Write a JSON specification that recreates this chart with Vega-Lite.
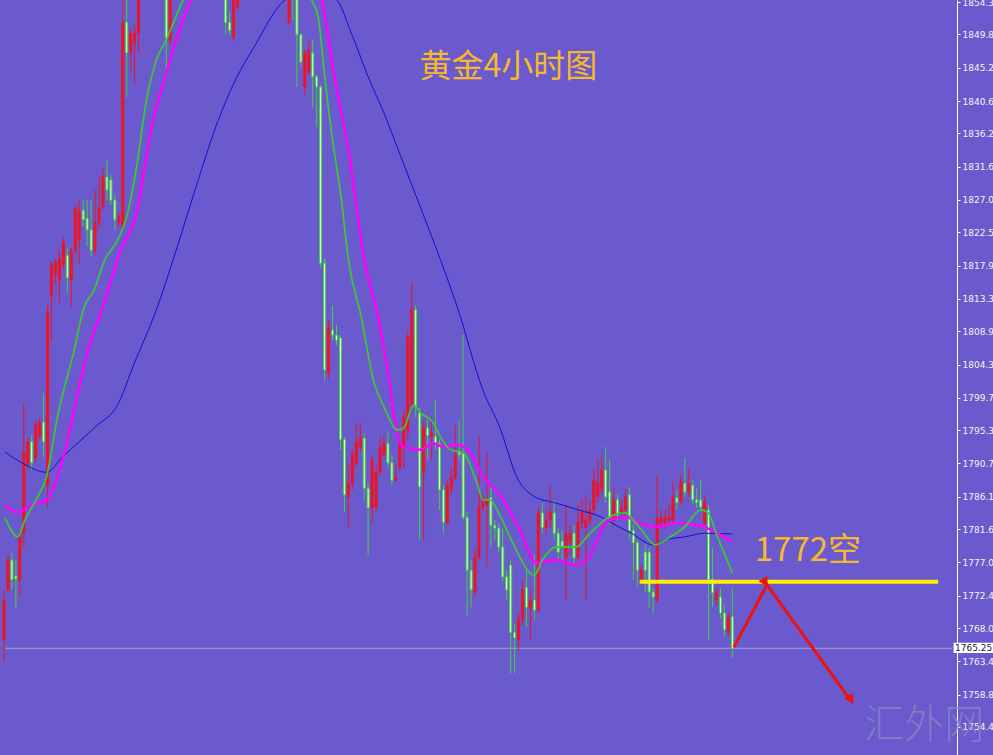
{
  "$schema": "https://vega.github.io/schema/vega-lite/v6.json",
  "width": 957,
  "height": 755,
  "autosize": {"type": "none"},
  "padding": {"left": 0, "top": 0, "right": 36, "bottom": 0},
  "background": "#6A5ACD",
  "config": {"view": {"stroke": null, "fill": "#6A5ACD"}, "axis": {"labelOverlap": false, "labelBound": false, "labelFlush": false}},
  "datasets": {
    "candles": [
      {"i":-1,"o":1766.4,"h":1773.3,"l":1763.4,"c":1771.9},
      {"i":0,"o":1773.3,"h":1778.0,"l":1773.0,"c":1777.4},
      {"i":1,"o":1777.4,"h":1778.4,"l":1773.3,"c":1774.7},
      {"i":2,"o":1775.2,"h":1777.4,"l":1770.8,"c":1774.8},
      {"i":3,"o":1774.7,"h":1781.1,"l":1772.3,"c":1780.6},
      {"i":4,"o":1781.1,"h":1799.0,"l":1779.1,"c":1792.3},
      {"i":5,"o":1790.5,"h":1794.2,"l":1789.8,"c":1793.7},
      {"i":6,"o":1793.7,"h":1794.6,"l":1789.8,"c":1790.8},
      {"i":7,"o":1791.5,"h":1796.7,"l":1790.8,"c":1796.0},
      {"i":8,"o":1794.4,"h":1797.0,"l":1794.0,"c":1796.4},
      {"i":9,"o":1796.4,"h":1800.4,"l":1791.6,"c":1793.7},
      {"i":10,"o":1787.7,"h":1812.5,"l":1784.6,"c":1811.6},
      {"i":11,"o":1813.9,"h":1818.5,"l":1807.7,"c":1818.1},
      {"i":12,"o":1816.7,"h":1819.0,"l":1815.3,"c":1818.5},
      {"i":13,"o":1816.0,"h":1820.1,"l":1812.8,"c":1819.0},
      {"i":14,"o":1818.1,"h":1821.8,"l":1817.4,"c":1821.2},
      {"i":15,"o":1819.4,"h":1820.4,"l":1814.3,"c":1816.3},
      {"i":16,"o":1816.0,"h":1820.4,"l":1812.3,"c":1819.9},
      {"i":17,"o":1820.1,"h":1826.3,"l":1819.4,"c":1825.9},
      {"i":18,"o":1821.5,"h":1827.0,"l":1818.1,"c":1825.6},
      {"i":19,"o":1825.6,"h":1827.0,"l":1823.3,"c":1824.3},
      {"i":20,"o":1824.5,"h":1827.0,"l":1820.6,"c":1822.9},
      {"i":21,"o":1822.9,"h":1827.0,"l":1819.2,"c":1820.1},
      {"i":22,"o":1820.1,"h":1828.4,"l":1819.4,"c":1823.9},
      {"i":23,"o":1823.9,"h":1830.2,"l":1823.2,"c":1825.9},
      {"i":24,"o":1826.1,"h":1831.4,"l":1825.6,"c":1830.2},
      {"i":25,"o":1830.2,"h":1832.5,"l":1827.0,"c":1828.4},
      {"i":26,"o":1829.8,"h":1830.5,"l":1826.3,"c":1827.0},
      {"i":27,"o":1827.0,"h":1827.7,"l":1822.9,"c":1824.3},
      {"i":28,"o":1824.0,"h":1825.4,"l":1823.2,"c":1824.7},
      {"i":29,"o":1823.3,"h":1855.0,"l":1822.9,"c":1851.5},
      {"i":30,"o":1851.5,"h":1855.2,"l":1841.2,"c":1847.3},
      {"i":31,"o":1847.3,"h":1850.7,"l":1844.9,"c":1850.0},
      {"i":32,"o":1848.7,"h":1851.1,"l":1843.1,"c":1850.0},
      {"i":33,"o":1850.0,"h":1857.0,"l":1847.3,"c":1856.0},
      {"i":34,"o":1856.0,"h":1861.0,"l":1855.0,"c":1859.0},
      {"i":35,"o":1859.0,"h":1863.5,"l":1857.5,"c":1862.0},
      {"i":36,"o":1862.0,"h":1863.0,"l":1856.0,"c":1858.0},
      {"i":37,"o":1858.0,"h":1862.0,"l":1856.5,"c":1861.0},
      {"i":38,"o":1861.0,"h":1865.5,"l":1860.0,"c":1864.0},
      {"i":39,"o":1864.0,"h":1865.0,"l":1856.0,"c":1858.5},
      {"i":40,"o":1858.5,"h":1859.5,"l":1845.3,"c":1849.3},
      {"i":41,"o":1849.1,"h":1858.0,"l":1848.4,"c":1857.0},
      {"i":42,"o":1857.0,"h":1861.0,"l":1855.5,"c":1860.0},
      {"i":43,"o":1860.0,"h":1864.0,"l":1859.0,"c":1863.0},
      {"i":44,"o":1863.0,"h":1867.5,"l":1862.0,"c":1866.0},
      {"i":45,"o":1866.0,"h":1867.0,"l":1862.5,"c":1864.0},
      {"i":46,"o":1864.0,"h":1869.0,"l":1863.0,"c":1868.0},
      {"i":47,"o":1868.0,"h":1872.0,"l":1867.0,"c":1870.5},
      {"i":48,"o":1870.5,"h":1871.5,"l":1865.5,"c":1867.0},
      {"i":49,"o":1867.0,"h":1868.0,"l":1863.5,"c":1865.0},
      {"i":50,"o":1865.0,"h":1870.0,"l":1864.0,"c":1869.0},
      {"i":51,"o":1869.0,"h":1870.0,"l":1865.0,"c":1866.0},
      {"i":52,"o":1866.0,"h":1867.0,"l":1861.0,"c":1862.0},
      {"i":53,"o":1862.0,"h":1863.0,"l":1856.0,"c":1859.0},
      {"i":54,"o":1859.0,"h":1860.0,"l":1855.0,"c":1857.0},
      {"i":55,"o":1857.0,"h":1858.0,"l":1849.8,"c":1851.5},
      {"i":56,"o":1851.5,"h":1853.0,"l":1849.8,"c":1850.4},
      {"i":57,"o":1849.5,"h":1857.0,"l":1849.0,"c":1856.0},
      {"i":58,"o":1853.6,"h":1860.0,"l":1853.2,"c":1858.0},
      {"i":59,"o":1858.0,"h":1862.0,"l":1857.0,"c":1861.0},
      {"i":60,"o":1861.0,"h":1862.5,"l":1857.5,"c":1859.0},
      {"i":61,"o":1859.0,"h":1864.0,"l":1858.0,"c":1863.0},
      {"i":62,"o":1863.0,"h":1867.0,"l":1862.0,"c":1866.0},
      {"i":63,"o":1866.0,"h":1867.0,"l":1862.5,"c":1864.0},
      {"i":64,"o":1864.0,"h":1868.5,"l":1863.0,"c":1867.0},
      {"i":65,"o":1867.0,"h":1871.5,"l":1866.0,"c":1870.0},
      {"i":66,"o":1870.0,"h":1871.0,"l":1866.0,"c":1868.0},
      {"i":67,"o":1868.0,"h":1869.0,"l":1863.0,"c":1864.0},
      {"i":68,"o":1864.0,"h":1865.0,"l":1859.5,"c":1861.0},
      {"i":69,"o":1861.0,"h":1862.0,"l":1855.5,"c":1858.0},
      {"i":70,"o":1858.0,"h":1859.0,"l":1855.0,"c":1856.0},
      {"i":71,"o":1851.5,"h":1859.0,"l":1851.1,"c":1857.0},
      {"i":72,"o":1858.0,"h":1859.0,"l":1851.8,"c":1855.0},
      {"i":73,"o":1856.0,"h":1857.0,"l":1842.6,"c":1849.8},
      {"i":74,"o":1849.8,"h":1850.0,"l":1845.3,"c":1846.0},
      {"i":75,"o":1842.6,"h":1847.7,"l":1841.5,"c":1847.3},
      {"i":76,"o":1844.7,"h":1848.8,"l":1844.2,"c":1847.7},
      {"i":77,"o":1847.3,"h":1849.1,"l":1839.8,"c":1844.0},
      {"i":78,"o":1844.0,"h":1844.2,"l":1837.1,"c":1842.6},
      {"i":79,"o":1842.6,"h":1842.9,"l":1817.7,"c":1818.3},
      {"i":80,"o":1818.3,"h":1819.0,"l":1802.2,"c":1803.6},
      {"i":81,"o":1803.2,"h":1810.5,"l":1802.5,"c":1809.5},
      {"i":82,"o":1809.1,"h":1812.5,"l":1807.7,"c":1808.4},
      {"i":83,"o":1808.4,"h":1809.8,"l":1807.0,"c":1807.7},
      {"i":84,"o":1808.0,"h":1808.4,"l":1792.6,"c":1794.0},
      {"i":85,"o":1794.0,"h":1794.4,"l":1784.0,"c":1786.4},
      {"i":86,"o":1786.1,"h":1790.5,"l":1781.9,"c":1788.0},
      {"i":87,"o":1788.0,"h":1792.6,"l":1787.1,"c":1791.9},
      {"i":88,"o":1790.8,"h":1796.3,"l":1790.1,"c":1793.7},
      {"i":89,"o":1793.0,"h":1796.4,"l":1792.3,"c":1794.2},
      {"i":90,"o":1794.2,"h":1794.9,"l":1785.7,"c":1787.3},
      {"i":91,"o":1787.3,"h":1788.0,"l":1778.1,"c":1784.6},
      {"i":92,"o":1784.6,"h":1791.9,"l":1782.5,"c":1791.2},
      {"i":93,"o":1784.7,"h":1790.5,"l":1784.0,"c":1789.5},
      {"i":94,"o":1789.5,"h":1794.4,"l":1789.0,"c":1793.0},
      {"i":95,"o":1791.9,"h":1794.4,"l":1791.5,"c":1793.5},
      {"i":96,"o":1793.5,"h":1795.1,"l":1790.2,"c":1790.8},
      {"i":97,"o":1790.8,"h":1791.9,"l":1787.7,"c":1788.4},
      {"i":98,"o":1788.4,"h":1790.5,"l":1788.2,"c":1788.8},
      {"i":99,"o":1790.2,"h":1794.0,"l":1789.8,"c":1793.5},
      {"i":100,"o":1793.0,"h":1798.1,"l":1790.1,"c":1797.1},
      {"i":101,"o":1795.3,"h":1809.1,"l":1794.0,"c":1808.1},
      {"i":102,"o":1798.8,"h":1815.7,"l":1798.1,"c":1811.9},
      {"i":103,"o":1811.9,"h":1812.5,"l":1797.1,"c":1798.5},
      {"i":104,"o":1797.7,"h":1798.4,"l":1780.2,"c":1787.5},
      {"i":105,"o":1789.4,"h":1796.7,"l":1780.2,"c":1795.7},
      {"i":106,"o":1795.6,"h":1796.7,"l":1791.2,"c":1794.6},
      {"i":107,"o":1794.4,"h":1797.1,"l":1791.2,"c":1794.9},
      {"i":108,"o":1794.4,"h":1799.5,"l":1792.6,"c":1793.5},
      {"i":109,"o":1793.5,"h":1794.0,"l":1784.3,"c":1787.1},
      {"i":110,"o":1787.1,"h":1787.7,"l":1781.1,"c":1782.6},
      {"i":111,"o":1782.6,"h":1788.4,"l":1782.2,"c":1787.7},
      {"i":112,"o":1787.1,"h":1790.2,"l":1786.4,"c":1788.8},
      {"i":113,"o":1788.8,"h":1796.0,"l":1788.4,"c":1791.9},
      {"i":114,"o":1792.3,"h":1796.7,"l":1791.2,"c":1791.9},
      {"i":115,"o":1792.2,"h":1808.4,"l":1782.9,"c":1783.3},
      {"i":116,"o":1783.3,"h":1784.0,"l":1769.8,"c":1776.0},
      {"i":117,"o":1776.0,"h":1777.4,"l":1770.9,"c":1773.3},
      {"i":118,"o":1773.0,"h":1778.8,"l":1772.3,"c":1777.8},
      {"i":119,"o":1777.8,"h":1794.4,"l":1777.4,"c":1784.7},
      {"i":120,"o":1784.7,"h":1786.4,"l":1784.0,"c":1785.7},
      {"i":121,"o":1785.0,"h":1792.2,"l":1776.5,"c":1785.7},
      {"i":122,"o":1786.0,"h":1787.5,"l":1779.2,"c":1782.2},
      {"i":123,"o":1782.2,"h":1782.9,"l":1780.2,"c":1781.8},
      {"i":124,"o":1781.8,"h":1782.5,"l":1778.5,"c":1779.2},
      {"i":125,"o":1779.2,"h":1781.8,"l":1774.4,"c":1775.1},
      {"i":126,"o":1775.1,"h":1776.0,"l":1771.9,"c":1773.3},
      {"i":127,"o":1776.7,"h":1777.4,"l":1761.8,"c":1767.4},
      {"i":128,"o":1767.4,"h":1768.5,"l":1761.8,"c":1766.7},
      {"i":129,"o":1766.4,"h":1770.2,"l":1765.0,"c":1769.2},
      {"i":130,"o":1769.2,"h":1774.7,"l":1768.5,"c":1773.3},
      {"i":131,"o":1773.6,"h":1776.0,"l":1768.2,"c":1770.9},
      {"i":132,"o":1770.8,"h":1773.3,"l":1766.4,"c":1771.9},
      {"i":133,"o":1771.9,"h":1778.1,"l":1769.2,"c":1770.5},
      {"i":134,"o":1770.5,"h":1784.6,"l":1770.2,"c":1783.9},
      {"i":135,"o":1783.9,"h":1785.3,"l":1781.1,"c":1781.9},
      {"i":136,"o":1781.9,"h":1784.3,"l":1780.9,"c":1782.9},
      {"i":137,"o":1782.9,"h":1787.7,"l":1781.8,"c":1784.0},
      {"i":138,"o":1783.9,"h":1785.7,"l":1780.2,"c":1781.1},
      {"i":139,"o":1781.1,"h":1781.8,"l":1777.4,"c":1778.5},
      {"i":140,"o":1780.0,"h":1781.5,"l":1777.4,"c":1779.2},
      {"i":141,"o":1777.8,"h":1785.0,"l":1771.9,"c":1780.9},
      {"i":142,"o":1779.8,"h":1782.2,"l":1778.1,"c":1781.1},
      {"i":143,"o":1781.1,"h":1782.2,"l":1776.7,"c":1777.7},
      {"i":144,"o":1777.7,"h":1785.0,"l":1777.2,"c":1782.6},
      {"i":145,"o":1782.5,"h":1785.7,"l":1781.8,"c":1783.9},
      {"i":146,"o":1781.9,"h":1786.4,"l":1771.9,"c":1782.9},
      {"i":147,"o":1782.9,"h":1785.7,"l":1782.2,"c":1784.3},
      {"i":148,"o":1784.3,"h":1789.8,"l":1783.6,"c":1788.4},
      {"i":149,"o":1786.1,"h":1791.2,"l":1785.3,"c":1788.0},
      {"i":150,"o":1787.1,"h":1791.9,"l":1786.4,"c":1789.8},
      {"i":151,"o":1789.8,"h":1793.0,"l":1785.3,"c":1786.1},
      {"i":152,"o":1786.8,"h":1791.2,"l":1782.2,"c":1783.3},
      {"i":153,"o":1782.9,"h":1787.5,"l":1782.2,"c":1785.7},
      {"i":154,"o":1785.7,"h":1786.4,"l":1782.9,"c":1783.6},
      {"i":155,"o":1784.0,"h":1785.7,"l":1783.2,"c":1784.6},
      {"i":156,"o":1784.3,"h":1787.1,"l":1783.6,"c":1786.1},
      {"i":157,"o":1786.4,"h":1787.5,"l":1780.2,"c":1781.5},
      {"i":158,"o":1781.5,"h":1782.2,"l":1774.7,"c":1779.8},
      {"i":159,"o":1779.8,"h":1780.2,"l":1773.7,"c":1776.0},
      {"i":160,"o":1774.7,"h":1776.7,"l":1774.0,"c":1776.0},
      {"i":161,"o":1778.5,"h":1779.5,"l":1772.9,"c":1776.0},
      {"i":162,"o":1778.5,"h":1779.1,"l":1770.9,"c":1773.0},
      {"i":163,"o":1773.0,"h":1773.6,"l":1770.1,"c":1772.3},
      {"i":164,"o":1771.9,"h":1789.1,"l":1771.6,"c":1783.2},
      {"i":165,"o":1782.6,"h":1784.3,"l":1781.8,"c":1783.2},
      {"i":166,"o":1782.5,"h":1784.3,"l":1781.8,"c":1783.3},
      {"i":167,"o":1782.9,"h":1785.0,"l":1782.2,"c":1783.3},
      {"i":168,"o":1782.9,"h":1788.2,"l":1782.6,"c":1786.0},
      {"i":169,"o":1786.0,"h":1787.1,"l":1784.3,"c":1785.3},
      {"i":170,"o":1785.4,"h":1789.1,"l":1785.0,"c":1788.2},
      {"i":171,"o":1788.0,"h":1791.5,"l":1786.1,"c":1786.8},
      {"i":172,"o":1786.8,"h":1790.1,"l":1786.1,"c":1788.0},
      {"i":173,"o":1787.7,"h":1788.4,"l":1785.0,"c":1785.7},
      {"i":174,"o":1785.7,"h":1787.3,"l":1784.6,"c":1785.3},
      {"i":175,"o":1785.7,"h":1788.4,"l":1784.3,"c":1784.7},
      {"i":176,"o":1782.5,"h":1786.4,"l":1782.2,"c":1785.4},
      {"i":177,"o":1784.3,"h":1785.0,"l":1766.4,"c":1774.7},
      {"i":178,"o":1774.7,"h":1779.1,"l":1770.9,"c":1772.9},
      {"i":179,"o":1771.9,"h":1773.6,"l":1771.2,"c":1772.9},
      {"i":180,"o":1772.3,"h":1773.6,"l":1769.4,"c":1770.1},
      {"i":181,"o":1770.1,"h":1771.2,"l":1766.8,"c":1767.8},
      {"i":182,"o":1767.5,"h":1770.2,"l":1767.0,"c":1769.6},
      {"i":183,"o":1769.6,"h":1773.6,"l":1763.9,"c":1765.25}
    ],
    "blue": [
      {"i":-0.75,"v":1792.3},{"i":3.5,"v":1790.8},{"i":9.75,"v":1789.5},{"i":13.75,"v":1791.6},
      {"i":21.75,"v":1795.6},{"i":28,"v":1799.1},{"i":31.75,"v":1804.3},{"i":37.5,"v":1811.9},
      {"i":42.5,"v":1820.1},{"i":47.5,"v":1828.8},{"i":52.5,"v":1837.1},{"i":57.5,"v":1843.6},
      {"i":61.75,"v":1847.7},{"i":70,"v":1854.6},{"i":76.5,"v":1856.0},{"i":83,"v":1854.6},
      {"i":86.75,"v":1850.0},{"i":91,"v":1844.0},{"i":95,"v":1839.0},{"i":99.25,"v":1833.0},
      {"i":103.5,"v":1827.0},{"i":109.25,"v":1818.8},{"i":113.5,"v":1812.3},{"i":120,"v":1800.8},
      {"i":124.25,"v":1795.7},{"i":128.5,"v":1788.9},{"i":133.5,"v":1786.0},{"i":137.5,"v":1785.4},
      {"i":144.25,"v":1784.3},{"i":150,"v":1783.3},{"i":152.5,"v":1782.5},{"i":157.5,"v":1781.1},
      {"i":163,"v":1779.5},{"i":166,"v":1780.2},{"i":171,"v":1780.6},{"i":176,"v":1781.1},{"i":183,"v":1781.0}
    ],
    "magenta": [
      {"i":-0.75,"v":1785.0},{"i":2.5,"v":1784.0},{"i":6,"v":1785.0},{"i":9.75,"v":1785.7},
      {"i":14.25,"v":1792.2},{"i":16,"v":1796.3},{"i":20,"v":1805.9},{"i":24.25,"v":1812.8},
      {"i":28.5,"v":1820.1},{"i":32.5,"v":1825.2},{"i":36,"v":1836.3},{"i":40,"v":1844.5},
      {"i":44.25,"v":1851.8},{"i":46.25,"v":1854.6},{"i":55,"v":1860},{"i":65,"v":1863},
      {"i":73,"v":1860},{"i":79.25,"v":1854.6},{"i":82.5,"v":1844.0},{"i":86,"v":1833.9},
      {"i":90,"v":1818.8},{"i":93.5,"v":1810.9},{"i":96,"v":1803.2},{"i":98.5,"v":1794.4},
      {"i":100,"v":1793.0},{"i":104.25,"v":1792.6},{"i":107.5,"v":1793.5},{"i":110,"v":1793.0},
      {"i":113.5,"v":1793.3},{"i":116.75,"v":1792.2},{"i":120,"v":1788.9},{"i":124.25,"v":1786.4},
      {"i":129.25,"v":1781.6},{"i":133.5,"v":1777.0},{"i":138.5,"v":1777.4},{"i":143.5,"v":1776.7},
      {"i":146.75,"v":1777.8},{"i":151.75,"v":1782.9},{"i":156,"v":1783.3},{"i":161,"v":1782.2},
      {"i":164.25,"v":1782.0},{"i":168.5,"v":1782.5},{"i":174.25,"v":1782.2},{"i":177.5,"v":1781.6},
      {"i":183,"v":1779.9}
    ],
    "green": [
      {"i":-0.75,"v":1783.2},{"i":2.5,"v":1780.6},{"i":4.25,"v":1782.9},{"i":7.5,"v":1786.1},
      {"i":9.75,"v":1788.9},{"i":12.5,"v":1797.1},{"i":16.75,"v":1806.4},{"i":19.25,"v":1812.3},
      {"i":21.75,"v":1814.6},{"i":24.25,"v":1818.5},{"i":28,"v":1821.8},{"i":30,"v":1824.7},
      {"i":32.5,"v":1831.6},{"i":35,"v":1840.8},{"i":37.5,"v":1846.3},{"i":40,"v":1849.1},
      {"i":44.25,"v":1854.6},{"i":50,"v":1860},{"i":58,"v":1862},{"i":65,"v":1864},
      {"i":72,"v":1860},{"i":76.75,"v":1854.6},{"i":78.5,"v":1851.8},{"i":79.75,"v":1845.4},
      {"i":81.75,"v":1836.3},{"i":84.25,"v":1827.0},{"i":86,"v":1818.8},{"i":89.25,"v":1810.9},
      {"i":92.5,"v":1801.8},{"i":95,"v":1798.5},{"i":98.5,"v":1795.3},{"i":100,"v":1795.6},
      {"i":102.5,"v":1798.8},{"i":104.25,"v":1797.7},{"i":107.5,"v":1796.3},{"i":109.25,"v":1794.4},
      {"i":111.75,"v":1792.6},{"i":115,"v":1792.2},{"i":118.5,"v":1788.0},{"i":120,"v":1785.7},
      {"i":121.75,"v":1785.7},{"i":124.25,"v":1783.6},{"i":127.5,"v":1779.8},{"i":133,"v":1775.3},
      {"i":135,"v":1777.4},{"i":138.5,"v":1779.2},{"i":143.5,"v":1779.2},{"i":146.75,"v":1780.9},
      {"i":151.75,"v":1783.3},{"i":156,"v":1783.9},{"i":157.5,"v":1783.2},{"i":160,"v":1781.6},
      {"i":163.5,"v":1779.5},{"i":166.75,"v":1780.4},{"i":171,"v":1782.0},{"i":175,"v":1784.3},
      {"i":176.75,"v":1784.0},{"i":179.25,"v":1780.6},{"i":183,"v":1775.6}
    ],
    "arrow": [
      {"k":0,"i":183.4,"p":1765.4},
      {"k":1,"i":191.75,"p":1774.0},
      {"k":2,"i":213.4,"p":1757.7}
    ]
  },
  "layer": [
    {
      "data": {"values": [{}]},
      "mark": {"type": "rule", "color": "#a8a4cc", "strokeWidth": 1},
      "encoding": {
        "x": {"datum": -0.75, "type": "quantitative", "axis": null,
              "scale": {"domain": [-0.75, 238.5], "nice": false, "zero": false}},
        "x2": {"datum": 238.5},
        "y": {"datum": 1765.25, "type": "quantitative",
              "scale": {"domain": [1750.54, 1854.58], "nice": false, "zero": false},
              "axis": {"orient": "right", "values": [1854.30, 1849.84, 1845.25, 1840.66, 1836.21, 1831.62, 1827.03, 1822.57, 1817.98, 1813.39, 1808.94, 1804.35, 1799.76, 1795.30, 1790.71, 1786.12, 1781.67, 1777.08, 1772.49, 1768.03, 1763.44, 1758.85, 1754.40],
                       "tickCount": 40,
                       "format": ".2f", "title": null, "grid": false,
                       "domainColor": "#ffffff", "domainWidth": 1,
                       "tickColor": "#ffffff", "tickSize": 3, "labelPadding": 2,
                       "labelColor": "#f4f4f4", "labelFont": "DejaVu Sans", "labelFontSize": 9,
                       "labelBaseline": "middle", "labelOverlap": false, "labelBound": false, "labelFlush": false}}
      }
    },
    {
      "data": {"name": "candles"},
      "mark": {"type": "rule", "strokeWidth": 1, "clip": true},
      "encoding": {
        "x": {"field": "i", "type": "quantitative"},
        "y": {"field": "l", "type": "quantitative"},
        "y2": {"field": "h"},
        "color": {"condition": {"test": "datum.c >= datum.o", "value": "#ee1424"}, "value": "#3ed43e"}
      }
    },
    {
      "data": {"name": "candles"},
      "mark": {"type": "bar", "size": 2, "strokeWidth": 1, "clip": true},
      "encoding": {
        "x": {"field": "i", "type": "quantitative"},
        "y": {"field": "o", "type": "quantitative"},
        "y2": {"field": "c"},
        "fill": {"condition": {"test": "datum.c >= datum.o", "value": "#ee1424"}, "value": "#f2ffe0"},
        "stroke": {"condition": {"test": "datum.c >= datum.o", "value": "#ee1424"}, "value": "#3ed43e"}
      }
    },
    {
      "data": {"name": "blue"},
      "mark": {"type": "line", "color": "#1010d8", "strokeWidth": 1, "interpolate": "monotone", "clip": true},
      "encoding": {"x": {"field": "i", "type": "quantitative"}, "y": {"field": "v", "type": "quantitative"}}
    },
    {
      "data": {"name": "magenta"},
      "mark": {"type": "line", "color": "#ff00ff", "strokeWidth": 2.5, "interpolate": "monotone", "clip": true},
      "encoding": {"x": {"field": "i", "type": "quantitative"}, "y": {"field": "v", "type": "quantitative"}}
    },
    {
      "data": {"name": "green"},
      "mark": {"type": "line", "color": "#3cc43c", "strokeWidth": 1.8, "interpolate": "monotone", "clip": true},
      "encoding": {"x": {"field": "i", "type": "quantitative"}, "y": {"field": "v", "type": "quantitative"}}
    },
    {
      "data": {"values": [{}]},
      "mark": {"type": "rule", "color": "#ffee00", "strokeWidth": 4},
      "encoding": {
        "x": {"datum": 159.6, "type": "quantitative"},
        "x2": {"datum": 235},
        "y": {"datum": 1774.4, "type": "quantitative"}
      }
    },
    {
      "data": {"name": "arrow"},
      "mark": {"type": "line", "color": "#ee1111", "strokeWidth": 3},
      "encoding": {
        "x": {"field": "i", "type": "quantitative"},
        "y": {"field": "p", "type": "quantitative"},
        "order": {"field": "k"}
      }
    },
    {
      "data": {"values": [{}]},
      "mark": {"type": "point", "shape": "triangle-up", "filled": true, "color": "#ee1111", "size": 110, "angle": 28, "opacity": 1},
      "encoding": {
        "x": {"datum": 191.3, "type": "quantitative"},
        "y": {"datum": 1774.7, "type": "quantitative"}
      }
    },
    {
      "data": {"values": [{}]},
      "mark": {"type": "point", "shape": "triangle-up", "filled": true, "color": "#ee1111", "size": 110, "angle": 144, "opacity": 1},
      "encoding": {
        "x": {"datum": 213.0, "type": "quantitative"},
        "y": {"datum": 1758.2, "type": "quantitative"}
      }
    },
    {
      "data": {"values": [{}]},
      "mark": {"type": "text", "text": "黄金4小时图", "font": "Noto Sans CJK SC", "fontSize": 32, "color": "#F6B92B", "align": "center", "baseline": "middle"},
      "encoding": {
        "x": {"datum": 126.4, "type": "quantitative"},
        "y": {"datum": 1845.35, "type": "quantitative"}
      }
    },
    {
      "data": {"values": [{}]},
      "mark": {"type": "text", "text": "1772空", "font": "Noto Sans CJK SC", "fontSize": 33, "color": "#F6B92B", "align": "center", "baseline": "middle"},
      "encoding": {
        "x": {"datum": 202.1, "type": "quantitative"},
        "y": {"datum": 1778.6, "type": "quantitative"}
      }
    },
    {
      "data": {"values": [{}]},
      "mark": {"type": "text", "text": "汇外网", "font": "Noto Sans CJK SC", "fontSize": 40, "fontWeight": 300, "color": "#8a82c8", "opacity": 0.8, "align": "center", "baseline": "middle"},
      "encoding": {
        "x": {"datum": 231.5, "type": "quantitative"},
        "y": {"datum": 1754.6, "type": "quantitative"}
      }
    },
    {
      "data": {"values": [{}]},
      "mark": {"type": "rect", "color": "#ffffff", "clip": false},
      "encoding": {
        "x": {"datum": 238.9, "type": "quantitative"},
        "x2": {"datum": 250},
        "y": {"datum": 1766.0, "type": "quantitative"},
        "y2": {"datum": 1764.6}
      }
    },
    {
      "data": {"values": [{}]},
      "mark": {"type": "text", "text": "1765.25", "font": "DejaVu Sans", "fontSize": 9, "color": "#202040", "align": "left", "baseline": "middle", "clip": false},
      "encoding": {
        "x": {"datum": 239.25, "type": "quantitative"},
        "y": {"datum": 1765.3, "type": "quantitative"}
      }
    }
  ]
}
